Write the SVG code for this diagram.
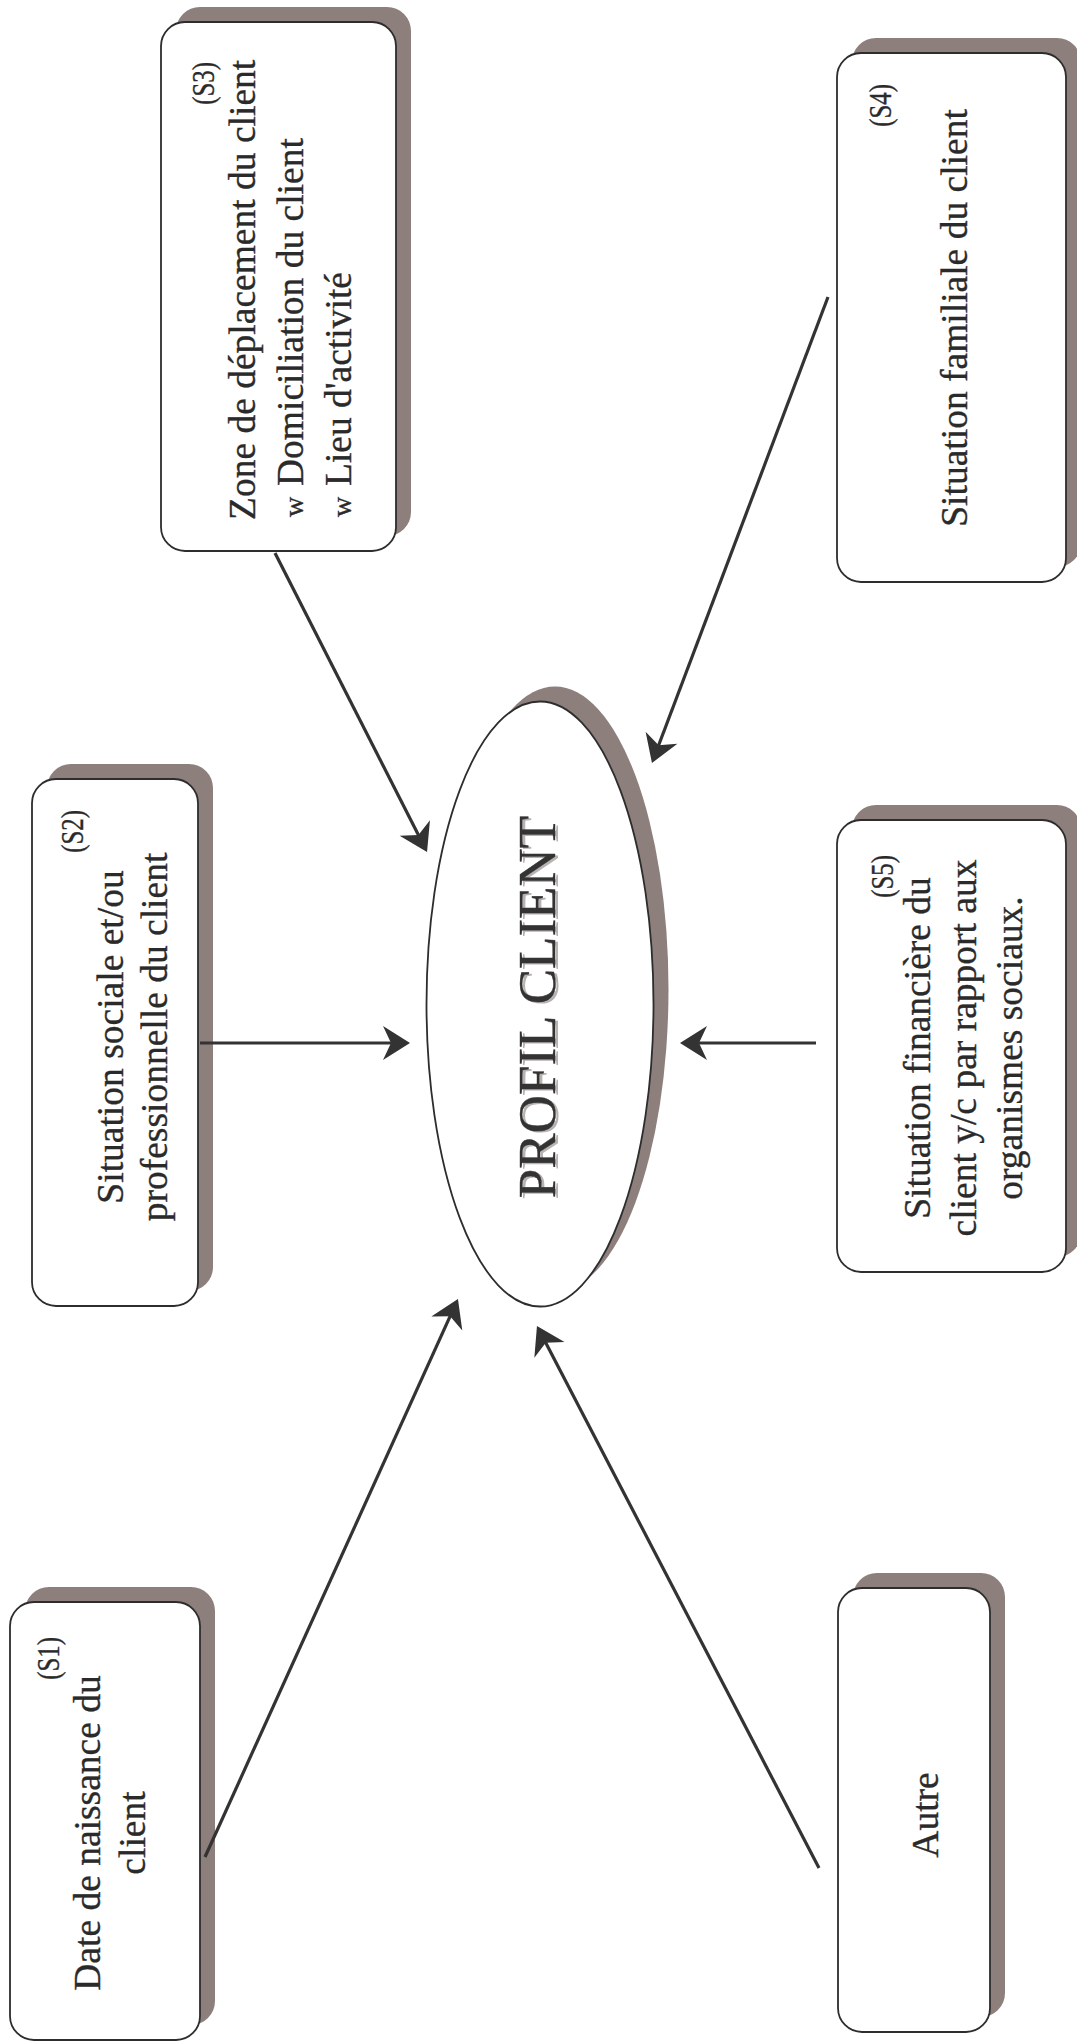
<svg xmlns="http://www.w3.org/2000/svg" width="1077" height="2044" viewBox="0 0 1077 2044">
  <style>
    .shadow { fill: #8c7f7c; }
    .box { fill: #ffffff; stroke: #2d2d2d; stroke-width: 1.8; }
    .t { font-family: "Liberation Serif", "Times New Roman", serif; font-size: 37.5px; fill: #2a2a2a; stroke: #2a2a2a; stroke-width: 0.35; }
    .tag { font-size: 31px; }
    .bullet { font-size: 28px; }
    .mid { text-anchor: middle; }
    .end { text-anchor: end; }
    .title { font-family: "Liberation Serif", "Times New Roman", serif; font-size: 53px; text-anchor: middle; }
    .conn { stroke: #333333; stroke-width: 3.2; fill: none; }
  </style>
  <defs>
    <marker id="arrow" markerUnits="userSpaceOnUse" viewBox="-16 -20 30 40" refX="0" refY="0" markerWidth="30" markerHeight="40" orient="auto" overflow="visible">
      <path d="M12,0 L-15,-17 L-7,0 L-15,17 Z" fill="#333333"/>
    </marker>
  </defs>

  <rect width="1077" height="2044" fill="#ffffff"/>

  <!-- S1: date of birth -->
  <g id="node-s1">
    <rect class="shadow" x="25" y="1587" width="190" height="438" rx="24"/>
    <rect class="box" x="10" y="1602" width="190" height="438" rx="24"/>
    <text class="t tag end" transform="translate(59,1637) rotate(-90) scale(0.8,1)">(S1)</text>
    <text class="t mid" transform="translate(100,1833) rotate(-90)">Date de naissance du</text>
    <text class="t mid" transform="translate(145,1833) rotate(-90)">client</text>
  </g>

  <!-- S2: social / professional situation -->
  <g id="node-s2">
    <rect class="shadow" x="47" y="764" width="166" height="527" rx="24"/>
    <rect class="box" x="32" y="779" width="166" height="527" rx="24"/>
    <text class="t tag end" transform="translate(83,810) rotate(-90) scale(0.8,1)">(S2)</text>
    <text class="t mid" transform="translate(123,1037) rotate(-90)">Situation sociale et/ou</text>
    <text class="t mid" transform="translate(167,1037) rotate(-90)">professionnelle du client</text>
  </g>

  <!-- S3: travel area -->
  <g id="node-s3">
    <rect class="shadow" x="176" y="7" width="235" height="529" rx="24"/>
    <rect class="box" x="161" y="22" width="235" height="529" rx="24"/>
    <text class="t tag end" transform="translate(214,62) rotate(-90) scale(0.8,1)">(S3)</text>
    <text class="t" transform="translate(255,520) rotate(-90)">Zone de déplacement du client</text>
    <text class="t bullet" transform="translate(303,517) rotate(-90)">w</text>
    <text class="t" transform="translate(303,486) rotate(-90)">Domiciliation du client</text>
    <text class="t bullet" transform="translate(351,517) rotate(-90)">w</text>
    <text class="t" transform="translate(351,486) rotate(-90)">Lieu d'activité</text>
  </g>

  <!-- S4: family situation -->
  <g id="node-s4">
    <rect class="shadow" x="852" y="38" width="229" height="529" rx="24"/>
    <rect class="box" x="837" y="53" width="229" height="529" rx="24"/>
    <text class="t tag end" transform="translate(891,84) rotate(-90) scale(0.8,1)">(S4)</text>
    <text class="t mid" transform="translate(967,318) rotate(-90)">Situation familiale du client</text>
  </g>

  <!-- S5: financial situation -->
  <g id="node-s5">
    <rect class="shadow" x="852" y="805" width="229" height="452" rx="24"/>
    <rect class="box" x="837" y="820" width="229" height="452" rx="24"/>
    <text class="t tag end" transform="translate(893,855) rotate(-90) scale(0.8,1)">(S5)</text>
    <text class="t mid" transform="translate(930,1048) rotate(-90)">Situation financière du</text>
    <text class="t mid" transform="translate(976,1048) rotate(-90)">client y/c par rapport aux</text>
    <text class="t mid" transform="translate(1022,1048) rotate(-90)">organismes sociaux.</text>
  </g>

  <!-- Other -->
  <g id="node-autre">
    <rect class="shadow" x="853" y="1573" width="152" height="444" rx="24"/>
    <rect class="box" x="838" y="1588" width="152" height="444" rx="24"/>
    <text class="t mid" transform="translate(938,1815) rotate(-90)">Autre</text>
  </g>

  <!-- Central ellipse -->
  <g id="node-profil">
    <ellipse class="shadow" cx="555" cy="989" rx="113.5" ry="302.5"/>
    <ellipse class="box" cx="540" cy="1004" rx="113.5" ry="302.5"/>
    <text class="title" fill="#b8b2b0" transform="translate(558,1008.5) rotate(-90)">PROFIL CLIENT</text>
    <text class="title" fill="#333333" stroke="#333333" stroke-width="0.4" transform="translate(555,1007) rotate(-90)">PROFIL CLIENT</text>
  </g>

  <!-- Connectors -->
  <g id="connectors">
    <line class="conn" x1="200" y1="1043" x2="398" y2="1043" marker-end="url(#arrow)"/>
    <line class="conn" x1="816" y1="1043" x2="692" y2="1043" marker-end="url(#arrow)"/>
    <line class="conn" x1="205" y1="1857" x2="453" y2="1309.9" marker-end="url(#arrow)"/>
    <line class="conn" x1="819" y1="1868" x2="542.5" y2="1336.6" marker-end="url(#arrow)"/>
    <line class="conn" x1="275" y1="553" x2="421.6" y2="841.3" marker-end="url(#arrow)"/>
    <line class="conn" x1="828" y1="297" x2="656.2" y2="751.8" marker-end="url(#arrow)"/>
  </g>
</svg>
